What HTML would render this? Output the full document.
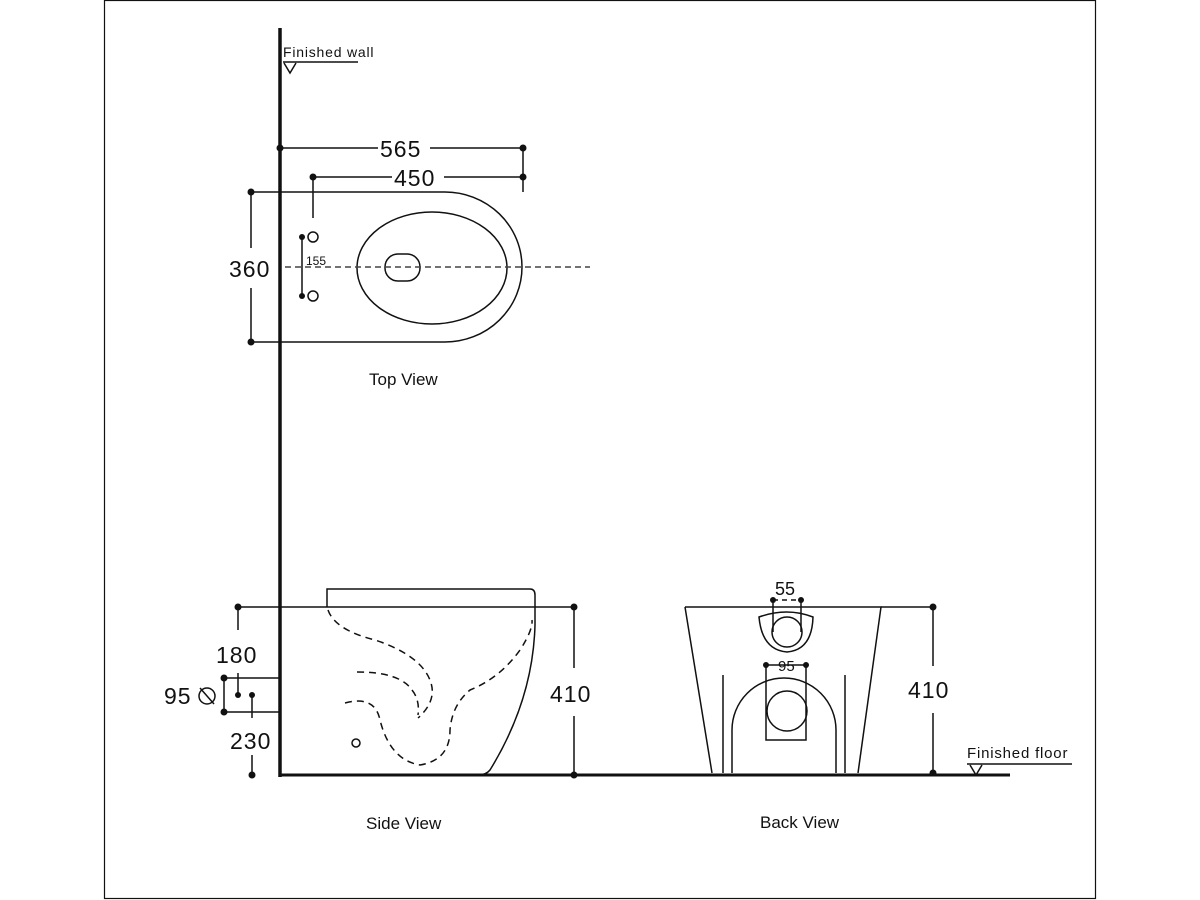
<!DOCTYPE html>
<html><head><style>body{margin:0;background:#fff}svg{display:block}text{font-family:"Liberation Sans",Arial,sans-serif;fill:#111}</style></head><body>
<svg width="1200" height="900" viewBox="0 0 1200 900" xmlns="http://www.w3.org/2000/svg">
<g fill="none" stroke="#111" stroke-width="1.5">
<rect x="104.5" y="0.5" width="991" height="898" stroke-width="1.2"/>
<line x1="280" y1="28" x2="280" y2="777" stroke-width="3.5"/>
<line x1="280" y1="775" x2="1010" y2="775" stroke-width="3"/>
<line x1="283" y1="62" x2="358" y2="62"/>
<path d="M284,63 L290,73 L296,63"/>
<line x1="967" y1="764" x2="1072" y2="764"/>
<path d="M970,765 L976,775 L982,765"/>
<path d="M251,192 H445 A77,75 0 0 1 445,342 H251"/>
<ellipse cx="432" cy="268" rx="75" ry="56"/>
<rect x="385" y="254" width="35" height="27" rx="13"/>
<line x1="285" y1="267" x2="590" y2="267" stroke-dasharray="6,4" stroke="#444"/>
<line x1="280" y1="148" x2="378" y2="148"/><line x1="430" y1="148" x2="523" y2="148"/>
<line x1="523" y1="148" x2="523" y2="192"/>
<line x1="313" y1="177" x2="392" y2="177"/><line x1="444" y1="177" x2="523" y2="177"/>
<line x1="313" y1="177" x2="313" y2="218"/>
<line x1="251" y1="192" x2="251" y2="248"/><line x1="251" y1="288" x2="251" y2="342"/>
<circle cx="313" cy="237" r="5"/><circle cx="313" cy="296" r="5"/>
<line x1="302" y1="237" x2="302" y2="296"/>
<path d="M327,607 V589 H530 Q535,589 535,595 V625 Q533,700 490,770 Q486,775 478,775"/>
<line x1="238" y1="607" x2="574" y2="607"/>
<path d="M328,610 Q335,630 375,640 Q420,655 430,680 Q438,700 418,718" stroke-dasharray="7,5"/>
<path d="M357,672 Q400,672 412,690 Q420,700 418,715" stroke-dasharray="7,5"/>
<path d="M345,703 Q375,695 380,720 Q390,760 420,765 Q450,760 450,730 Q452,705 470,690 Q500,678 520,650 Q533,630 532,620" stroke-dasharray="7,5"/>
<circle cx="356" cy="743" r="4"/>
<line x1="238" y1="607" x2="238" y2="630"/>
<line x1="222" y1="678" x2="280" y2="678"/><line x1="222" y1="712" x2="280" y2="712"/>
<line x1="224" y1="678" x2="224" y2="712"/>
<line x1="238" y1="673" x2="238" y2="695"/>
<line x1="252" y1="693" x2="252" y2="718"/>
<line x1="252" y1="755" x2="252" y2="775"/>
<line x1="574" y1="607" x2="574" y2="668"/><line x1="574" y1="716" x2="574" y2="775"/>
<circle cx="207" cy="696" r="8"/><line x1="200" y1="688" x2="214" y2="704"/>
<path d="M685,607 H881 L858,773 M685,607 L712,773"/>
<line x1="881" y1="607" x2="933" y2="607"/>
<line x1="933" y1="607" x2="933" y2="666"/><line x1="933" y1="713" x2="933" y2="775"/>
<line x1="723" y1="675" x2="723" y2="773"/><line x1="845" y1="675" x2="845" y2="773"/>
<path d="M732,773 V730 A52,52 0 0 1 836,730 V773"/>
<path d="M759,617 Q787,607 813,617 Q812,650 787,652 Q762,650 759,617 Z"/>
<circle cx="787" cy="632" r="15"/>
<line x1="773" y1="598" x2="773" y2="632"/><line x1="801" y1="598" x2="801" y2="632"/>
<line x1="773" y1="600" x2="801" y2="600" stroke-dasharray="5,4"/>
<rect x="766" y="665" width="40" height="75"/>
<circle cx="787" cy="711" r="20"/>
</g>
<g fill="#111">
<circle cx="280" cy="148" r="3.5"/><circle cx="523" cy="148" r="3.5"/><circle cx="523" cy="177" r="3.5"/><circle cx="313" cy="177" r="3.5"/>
<circle cx="251" cy="192" r="3.5"/><circle cx="251" cy="342" r="3.5"/><circle cx="302" cy="237" r="3"/><circle cx="302" cy="296" r="3"/>
<circle cx="238" cy="607" r="3.5"/><circle cx="574" cy="607" r="3.5"/><circle cx="574" cy="775" r="3.5"/>
<circle cx="224" cy="678" r="3.5"/><circle cx="224" cy="712" r="3.5"/><circle cx="238" cy="695" r="3"/><circle cx="252" cy="695" r="3"/><circle cx="252" cy="775" r="3.5"/>
<circle cx="933" cy="607" r="3.5"/><circle cx="933" cy="773" r="3.5"/>
<circle cx="773" cy="600" r="3"/><circle cx="801" cy="600" r="3"/><circle cx="766" cy="665" r="3"/><circle cx="806" cy="665" r="3"/>
</g>
<g font-size="23" letter-spacing="1">
<text x="380" y="157">565</text>
<text x="394" y="186">450</text>
<text x="229" y="277">360</text>
<text x="216" y="663">180</text>
<text x="164" y="704">95</text>
<text x="230" y="749">230</text>
<text x="550" y="702">410</text>
<text x="908" y="698">410</text>
</g>
<text x="306" y="265" font-size="12">155</text>
<text x="775" y="595" font-size="18">55</text>
<text x="778" y="671" font-size="15">95</text>
<text x="283" y="57" font-size="14" letter-spacing="0.8">Finished wall</text>
<text x="967" y="758" font-size="15" letter-spacing="0.8">Finished floor</text>
<g font-size="17">
<text x="369" y="385">Top View</text>
<text x="366" y="829">Side View</text>
<text x="760" y="828">Back View</text>
</g>
</svg>
</body></html>
